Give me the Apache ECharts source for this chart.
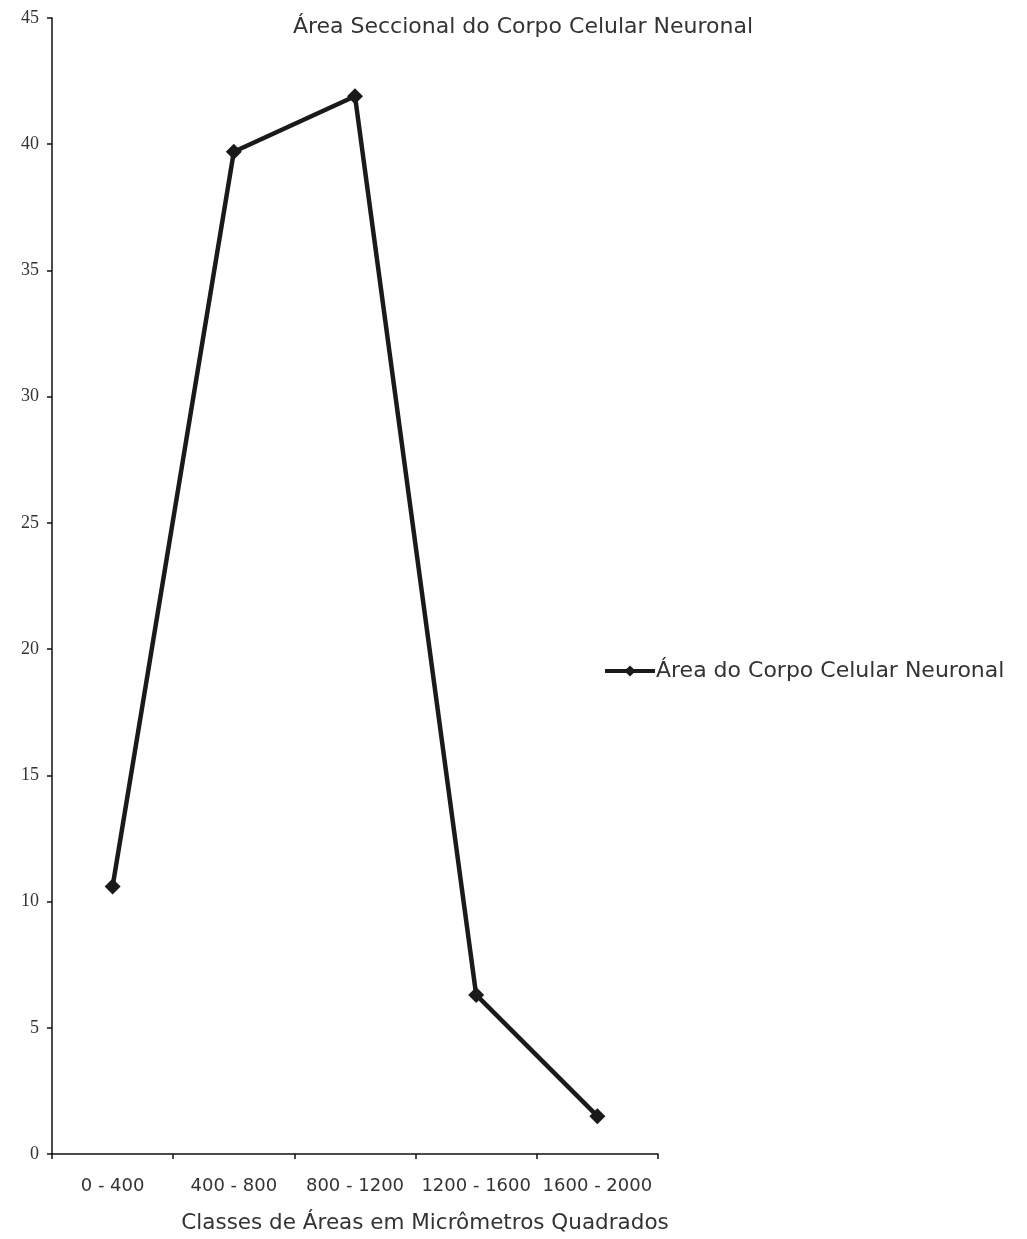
<!DOCTYPE html>
<html>
<head>
<meta charset="utf-8">
<script src="https://cdn.jsdelivr.net/npm/echarts@6/dist/echarts.min.js"></script>
<style>html,body{margin:0;padding:0;background:#fff}#c{width:1027px;height:1239px}</style>
</head>
<body>
<div id="c"></div>
<script>
const categories = ["0 - 400", "400 - 800", "800 - 1200", "1200 - 1600", "1600 - 2000"];
const values = [10.6, 39.7, 41.9, 6.3, 1.5];
const seriesName = "Área do Corpo Celular Neuronal";
const titleText = "Área Seccional do Corpo Celular Neuronal";
const xName = "Classes de Áreas em Micrômetros Quadrados";

const chart = echarts.init(document.getElementById('c'), null, {renderer: 'canvas'});
chart.setOption({
  animation: false,
  backgroundColor: '#ffffff',
  title: {
    text: titleText,
    left: 518, textAlign: 'center', top: 11,
    textStyle: {fontFamily: 'DejaVu Sans', fontWeight: 'normal', fontSize: 22, color: '#333'}
  },
  legend: {
    data: [seriesName],
    left: 598, top: 655,
    itemWidth: 50, itemHeight: 14, itemGap: 0,
    lineStyle: {width: 4},
    textStyle: {fontFamily: 'DejaVu Sans', fontSize: 22, color: '#333', padding: [0, 0, 0, -4]}
  },
  grid: {left: 52, right: 369, top: 18, bottom: 81, containLabel: false},
  xAxis: {
    type: 'category',
    data: categories,
    boundaryGap: true,
    name: xName,
    nameLocation: 'middle',
    nameGap: 58,
    nameTextStyle: {fontFamily: 'DejaVu Sans', fontSize: 21.5, color: '#333', padding: [0, 0, 0, 140]},
    axisLine: {lineStyle: {color: '#111', width: 1.5}},
    axisTick: {show: true, interval: 0, length: 5, lineStyle: {color: '#111', width: 1.5}},
    axisLabel: {fontFamily: 'DejaVu Sans', fontSize: 18, color: '#333', margin: 23, interval: 0},
    splitLine: {show: false}
  },
  yAxis: {
    type: 'value',
    min: 0, max: 45, interval: 5,
    axisLine: {show: true, lineStyle: {color: '#111', width: 1.5}},
    axisTick: {show: true, length: 5, lineStyle: {color: '#111', width: 1.5}},
    axisLabel: {fontFamily: 'Liberation Serif', fontSize: 18, color: '#333', margin: 13},
    splitLine: {show: false}
  },
  series: [{
    name: seriesName,
    type: 'line',
    data: values,
    symbol: 'diamond',
    symbolSize: 16,
    lineStyle: {color: '#1a1a1a', width: 4.5},
    itemStyle: {color: '#1a1a1a'},
    z: 3
  }]
});
</script>
</body>
</html>
